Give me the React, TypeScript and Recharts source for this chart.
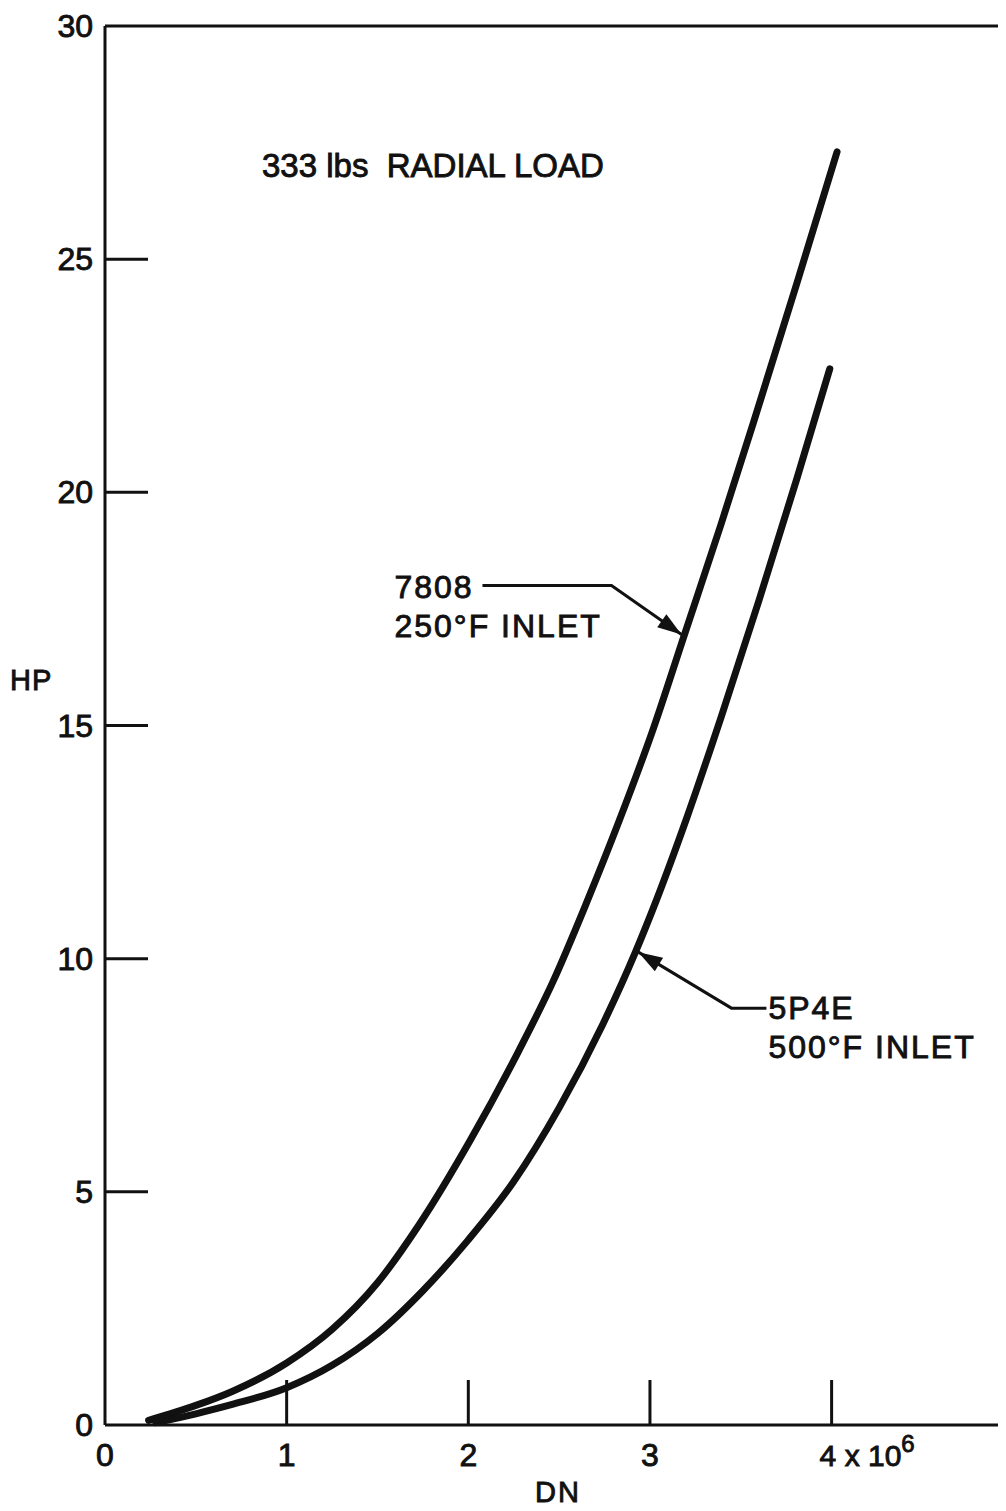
import { LineChart, Line, XAxis, YAxis, ReferenceLine, ReferenceDot } from "recharts";

const dnTicks = [0, 1, 2, 3, 4];
const hpTicks = [0, 5, 10, 15, 20, 25, 30];

// 7808 oil, 250°F inlet
const dn7808 = [0.24, 0.5, 0.7, 1.0, 1.25, 1.5, 1.73, 2.01, 2.28, 2.47, 2.65, 2.83, 3.02, 3.19, 3.39, 3.57, 3.81, 4.03];
const hp7808 = [0.1, 0.42, 0.72, 1.33, 2.05, 3.05, 4.3, 6.1, 8.04, 9.54, 11.19, 12.95, 14.95, 16.95, 19.3, 21.5, 24.5, 27.3];

// 5P4E oil, 500°F inlet
const dn5p4e = [0.28, 0.5, 0.7, 1.0, 1.25, 1.5, 1.75, 2.0, 2.25, 2.5, 2.74, 2.92, 3.02, 3.2, 3.39, 3.6, 3.81, 3.99];
const hp5p4e = [0.05, 0.24, 0.44, 0.8, 1.28, 1.96, 2.88, 3.97, 5.22, 6.8, 8.59, 10.14, 11.1, 12.99, 15.16, 17.68, 20.31, 22.65];

const toPoints = (dn: number[], hp: number[]) => dn.map((d, i) => ({ dn: d, hp: hp[i] }));
const data7808 = toPoints(dn7808, hp7808);
const data5p4e = toPoints(dn5p4e, hp5p4e);

// curve points the callout arrows point at
const CALLOUT_7808 = 13;
const CALLOUT_5P4E = 11;

const FONT = "'Liberation Sans', Arial, sans-serif";
const INK = "#111";
const textStyle = { fontFamily: FONT, fill: INK, stroke: INK, strokeWidth: 0.9 };

function HpTick({ x, y, payload }: any) {
  const v = payload.value;
  return (
    <g>
      {v > 0 && v < 30 && <line x1={x} x2={x + 43} y1={y} y2={y} stroke={INK} strokeWidth={3} />}
      <text x={x - 12} y={y + 11} textAnchor="end" fontSize={32} {...textStyle}>
        {v}
      </text>
    </g>
  );
}

function DnTick({ x, y, payload }: any) {
  const v = payload.value;
  return (
    <g>
      {v > 0 && <line x1={x} x2={x} y1={y} y2={y - 45} stroke={INK} strokeWidth={3} />}
      {v === 4 ? (
        <text x={x - 12} y={y + 41} textAnchor="start" fontSize={30} {...textStyle}>
          4 x 10
          <tspan dy={-14} fontSize={24}>
            6
          </tspan>
        </text>
      ) : (
        <text x={x} y={y + 41} textAnchor="middle" fontSize={32} {...textStyle}>
          {v}
        </text>
      )}
    </g>
  );
}

function Arrowhead({ x, y, fromX, fromY }: { x: number; y: number; fromX: number; fromY: number }) {
  const a = Math.atan2(y - fromY, x - fromX);
  const len = 24;
  const half = 8;
  const bx = x - len * Math.cos(a);
  const by = y - len * Math.sin(a);
  const px = -Math.sin(a) * half;
  const py = Math.cos(a) * half;
  return <polygon points={`${x},${y} ${bx + px},${by + py} ${bx - px},${by - py}`} fill={INK} />;
}

// leader from a text block to a point on the curve
function Callout({ cx, cy, dir, lines }: { cx: number; cy: number; dir: 1 | -1; lines: string[] }) {
  const tipX = cx + dir * 3;
  const tipY = cy;
  const elbowX = cx + dir * (dir < 0 ? 73 : 96);
  const elbowY = cy + (dir < 0 ? -49 : 56);
  const endX = cx + dir * (dir < 0 ? 202 : 131);
  const textX = dir < 0 ? cx - 290 : cx + 133;
  const firstBase = dir < 0 ? cy - 37 : cy + 67;
  return (
    <g>
      <polyline
        points={`${endX},${elbowY} ${elbowX},${elbowY} ${tipX},${tipY}`}
        fill="none"
        stroke={INK}
        strokeWidth={3}
      />
      <Arrowhead x={tipX} y={tipY} fromX={elbowX} fromY={elbowY} />
      {lines.map((t, i) => (
        <text
          key={t}
          x={textX}
          y={firstBase + i * 39}
          fontSize={32}
          letterSpacing={2}
          style={{ whiteSpace: "pre" }}
          {...textStyle}
        >
          {t}
        </text>
      ))}
    </g>
  );
}

export default function App() {
  return (
    <LineChart width={998} height={1503} margin={{ top: 18, right: 0, bottom: 0, left: 0 }}>
      <XAxis
        type="number"
        dataKey="dn"
        domain={[0, 4.96]}
        ticks={dnTicks}
        interval={0}
        allowDataOverflow
        height={86}
        tickSize={0}
        tickMargin={0}
        tickLine={false}
        axisLine={{ stroke: INK, strokeWidth: 3 }}
        tick={(p: any) => <DnTick {...p} />}
      />
      <YAxis
        type="number"
        domain={[0, 30]}
        ticks={hpTicks}
        interval={0}
        width={97}
        tickSize={0}
        tickMargin={0}
        tickLine={false}
        axisLine={{ stroke: INK, strokeWidth: 3 }}
        tick={(p: any) => <HpTick {...p} />}
      />
      <ReferenceLine y={30} stroke={INK} strokeWidth={3} />
      <Line
        data={data7808}
        dataKey="hp"
        type="monotone"
        stroke={INK}
        strokeWidth={7}
        strokeLinecap="round"
        dot={false}
        activeDot={false}
        isAnimationActive={false}
      />
      <Line
        data={data5p4e}
        dataKey="hp"
        type="monotone"
        stroke={INK}
        strokeWidth={7}
        strokeLinecap="round"
        dot={false}
        activeDot={false}
        isAnimationActive={false}
      />
      <ReferenceDot
        x={dn7808[CALLOUT_7808]}
        y={hp7808[CALLOUT_7808]}
        shape={(p: any) => <Callout cx={p.cx} cy={p.cy} dir={-1} lines={["7808", "250°F INLET"]} />}
      />
      <ReferenceDot
        x={dn5p4e[CALLOUT_5P4E]}
        y={hp5p4e[CALLOUT_5P4E]}
        shape={(p: any) => <Callout cx={p.cx} cy={p.cy} dir={1} lines={["5P4E", "500°F INLET"]} />}
      />
      <text x={254} y={169} fontSize={33} style={{ whiteSpace: "pre" }} {...textStyle}>
        333 lbs  RADIAL LOAD
      </text>
      <text x={2} y={682} fontSize={29} letterSpacing={1} {...textStyle}>
        HP
      </text>
      <text x={527} y={1494} fontSize={29} letterSpacing={2} {...textStyle}>
        DN
      </text>
    </LineChart>
  );
}
